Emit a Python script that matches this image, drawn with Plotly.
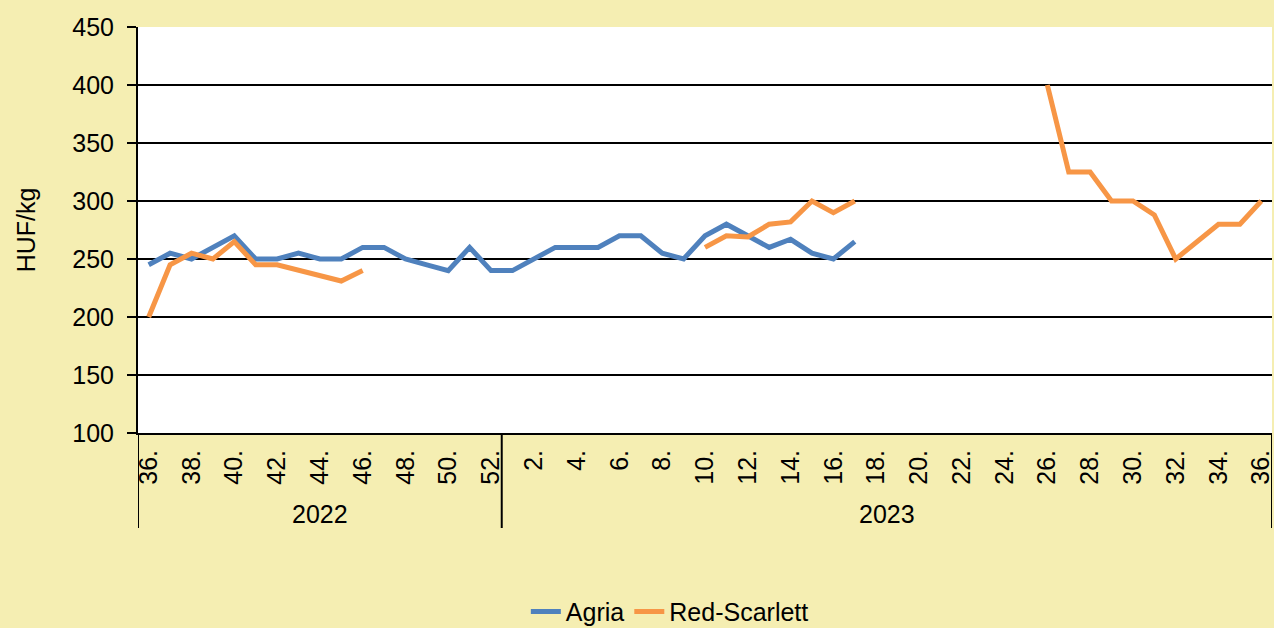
import plotly.graph_objects as go

# week labels: 2022 weeks 36-52, then 2023 weeks 1-36
weeks_2022 = [f"{w}." for w in range(36, 53)]
weeks_2023 = [f"{w}." for w in range(1, 37)]
week_labels = weeks_2022 + weeks_2023
years = ["2022", "2023"]

agria = [245, 255, 250, 260, 270, 250, 250, 255, 250, 250, 260, 260, 250, 245, 240, 260, 240,
         240, 250, 260, 260, 260, 270, 270, 255, 250, 270, 280, 270, 260, 267, 255, 250, 265,
         None, None, None, None, None, None, None, None, None, None,
         None, None, None, None, None, None, None, None, None]

red_scarlett = [200, 245, 255, 250, 265, 245, 245, 240, 236, 231, 240,
                None, None, None, None, None, None,
                None, None, None, None, None, None, None, None, None,
                260, 270, 269, 280, 282, 300, 290, 300,
                None, None, None, None, None, None, None, None,
                400, 325, 325, 300, 300, 288, 250, 265, 280, 280, 300]

idx = list(range(len(week_labels)))

fig = go.Figure()
fig.add_trace(go.Scatter(x=idx, y=agria, mode="lines", name="Agria",
                         line=dict(color="#4F81BD", width=5)))
fig.add_trace(go.Scatter(x=idx, y=red_scarlett, mode="lines", name="Red-Scarlett",
                         line=dict(color="#F79646", width=5)))

n22 = len(weeks_2022)
n = len(week_labels)

# year group separators under the axis
for xv in [-0.5, n22 - 0.5, n - 0.5]:
    fig.add_shape(type="line", xref="x", yref="paper", x0=xv, x1=xv, y0=0, y1=-0.234,
                  line=dict(color="black", width=2))

fig.add_annotation(x=(n22 - 1) / 2, y=-0.2, xref="x", yref="paper", text=years[0],
                   showarrow=False, yanchor="middle", font=dict(size=25, color="black"))
fig.add_annotation(x=(n22 + n - 1) / 2, y=-0.2, xref="x", yref="paper", text=years[1],
                   showarrow=False, yanchor="middle", font=dict(size=25, color="black"))

fig.update_layout(
    width=1274, height=628,
    margin=dict(l=138, r=2, t=27, b=195, autoexpand=False),
    paper_bgcolor="#F5EEB2",
    plot_bgcolor="white",
    font=dict(family="Liberation Sans, Arial", size=25, color="black"),
    showlegend=True,
    legend=dict(orientation="h", x=0.469, xanchor="center", y=-0.44, yanchor="middle",
                bgcolor="rgba(0,0,0,0)", font=dict(size=25)),
    xaxis=dict(range=[-0.5, n - 0.5], tickmode="array",
               tickvals=idx[::2], ticktext=week_labels[::2],
               tickangle=-90, showgrid=False, zeroline=False,
               showline=True, linecolor="black", linewidth=2,
               ticks="", ticklabelstandoff=5, ticklabeloverflow="allow",
               tickfont=dict(size=25)),
    yaxis=dict(range=[100, 450], dtick=50, showgrid=True, gridcolor="black", gridwidth=2,
               zeroline=False, showline=True, linecolor="black", linewidth=2,
               ticks="outside", ticklen=9, tickcolor="black", tickwidth=2,
               ticklabelstandoff=8,
               title=dict(text="HUF/kg", font=dict(size=25), standoff=30),
               tickfont=dict(size=25)),
)

fig.write_html("out.html", config={"displayModeBar": False},
               post_script="document.body.style.margin='0';document.body.style.overflow='hidden';")
